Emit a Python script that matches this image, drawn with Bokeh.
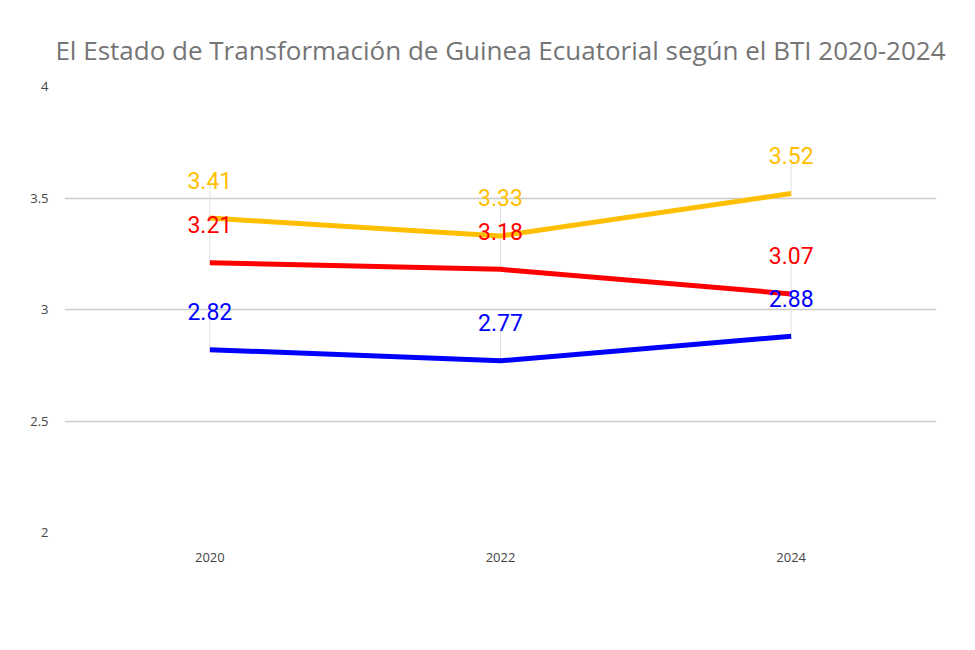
from bokeh.plotting import figure
from bokeh.models import (Range1d, FixedTicker, SingleIntervalTicker, CustomJSTickFormatter,
                          Legend, LegendItem, ColumnDataSource)
from bokeh.layouts import gridplot
from bokeh.core.properties import value
from bokeh.embed import file_html
from bokeh.resources import INLINE

title_text = "El Estado de Transformación de Guinea Ecuatorial según el BTI 2020-2024"
years = [2020, 2022, 2024]
series_names = ["Estado de Democracia", "Estado de Economía", "Índice de Gobernanza"]
democracia = [2.82, 2.77, 2.88]
economia = [3.21, 3.18, 3.07]
gobernanza = [3.41, 3.33, 3.52]
colors = ["#0000FF", "#FF0000", "#FFBF00"]
label_texts = [[f"{v:.2f}" for v in s] for s in (democracia, economia, gobernanza)]

p = figure(width=959, height=634, y_range=Range1d(2, 4),
           output_backend="svg", title=title_text,
           min_border_left=64, min_border_right=23, min_border_top=86, min_border_bottom=102)
p.x_range.range_padding = 1
p.x_range.range_padding_units = "absolute"
p.outline_line_color = None
p.background_fill_color = "white"
p.border_fill_color = "white"

tfont = "Open Sans"
p.title.align = "center"
p.title.text_font = tfont
p.title.text_font_size = "26px"
p.title.text_color = "#757575"
p.title.text_font_style = "normal"
p.title.standoff = 38

p.xaxis.ticker = FixedTicker(ticks=years)
p.yaxis.ticker = SingleIntervalTicker(interval=0.5)
p.xaxis.formatter = CustomJSTickFormatter(code="return tick.toString()")
p.yaxis.formatter = CustomJSTickFormatter(code="return tick.toString()")
for ax in (p.xaxis, p.yaxis):
    ax.axis_line_color = None
    ax.major_tick_line_color = None
    ax.minor_tick_line_color = None
    ax.major_label_text_font = tfont
    ax.major_label_text_font_size = "13px"
    ax.major_label_text_color = "#444444"
p.xaxis.major_label_standoff = 14
p.yaxis.major_label_standoff = 10
p.xgrid.grid_line_color = None
p.ygrid.grid_line_color = "#CCCCCC"
p.ygrid.grid_line_width = 1.5

all_series = [democracia, economia, gobernanza]
lead = 0.148
for s in all_series:
    p.segment(x0=years, y0=s, x1=years, y1=[v + lead for v in s], line_color="#E0E0E0", line_width=1)

renderers = []
for s, c in zip(all_series, colors):
    r = p.line(x=years, y=s, line_color=c, line_width=5)
    renderers.append(r)

for s, c, t in zip(all_series, colors, label_texts):
    src = ColumnDataSource(dict(x=years, y=s, t=t))
    p.text(x="x", y="y", text="t", source=src, y_offset=-38, text_align="center",
           text_baseline="alphabetic", text_font=value("Roboto"), text_font_size="23px",
           text_color=c)

legend = Legend(items=[LegendItem(label=n, renderers=[r]) for n, r in zip(series_names, renderers)],
                orientation="horizontal", location=(50, -73), border_line_color=None,
                background_fill_alpha=0, glyph_width=18, glyph_height=8, label_standoff=10,
                spacing=6, padding=0, margin=0, label_text_font=tfont,
                label_text_font_size="13px", label_text_color="#333333")
p.add_layout(legend, "center")

g = gridplot([[p]], toolbar_location=None)
open("out.html", "w").write(file_html(g, INLINE))
